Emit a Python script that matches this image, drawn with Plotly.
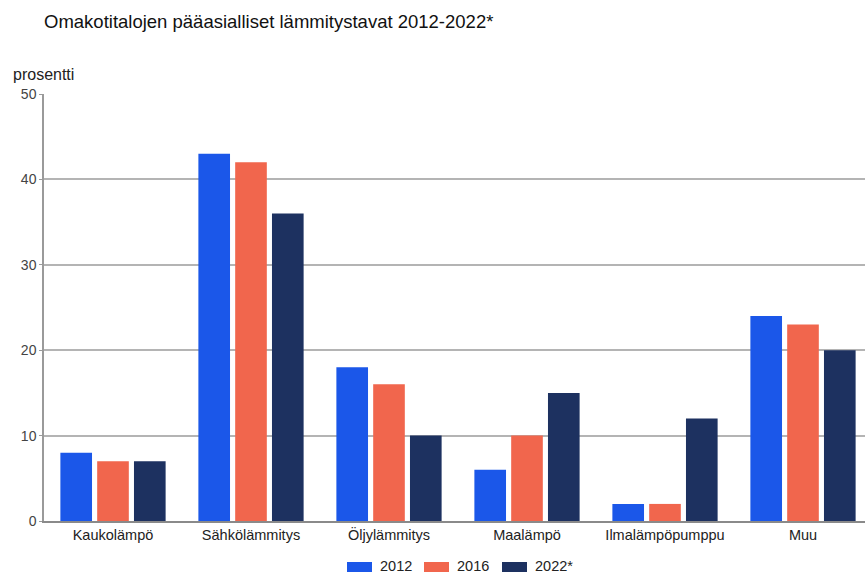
import plotly.graph_objects as go

categories = ["Kaukolämpö", "Sähkölämmitys", "Öljylämmitys", "Maalämpö", "Ilmalämpöpumppu", "Muu"]
years = ["2012", "2016", "2022*"]
values_2012 = [8, 43, 18, 6, 2, 24]
values_2016 = [7, 42, 16, 10, 2, 23]
values_2022 = [7, 36, 10, 15, 12, 20]
y_ticks = [0, 10, 20, 30, 40, 50]

series = [values_2012, values_2016, values_2022]
colors = ["#1B57E9", "#F1664D", "#1D3160"]

W, H = 865, 575
ML, MR, MT, MB = 44, 0, 94, 54
PW, PH = W - ML - MR, H - MT - MB

fig = go.Figure()
for name, vals, col in zip(years, series, colors):
    fig.add_trace(go.Bar(
        x=categories, y=vals, name=name,
        marker=dict(color=col, line=dict(width=0)),
    ))


def px_x(px):
    return (px - ML) / PW


def px_y(py):
    return (H - MB - py) / PH


# bottom legend drawn with wide colour swatches
shapes, annotations = [], []
legend_x = [347, 424, 502]
for lx, name, col in zip(legend_x, years, colors):
    shapes.append(dict(type="rect", xref="paper", yref="paper",
                       x0=px_x(lx), x1=px_x(lx + 25),
                       y0=px_y(572), y1=px_y(562),
                       fillcolor=col, line=dict(width=0)))
    annotations.append(dict(text=name, xref="paper", yref="paper",
                            x=px_x(lx + 31), xanchor="left",
                            y=px_y(566), yanchor="middle", showarrow=False,
                            font=dict(size=14.5, color="#222")))

annotations.append(dict(text="prosentti", xref="paper", yref="paper",
                        x=px_x(11), xanchor="left",
                        y=px_y(75), yanchor="middle", showarrow=False,
                        font=dict(size=16, color="#222")))

fig.update_layout(
    width=W, height=H,
    margin=dict(l=ML, r=MR, t=MT, b=MB),
    paper_bgcolor="white", plot_bgcolor="white",
    font=dict(family="Liberation Sans, Arial, sans-serif", color="#222"),
    barmode="group", bargap=0.2, bargroupgap=0.14,
    showlegend=False,
    title=dict(text="Omakotitalojen pääasialliset lämmitystavat 2012-2022*",
               x=44 / W, xanchor="left", y=1 - 22 / H, yanchor="middle",
               font=dict(size=18.5, color="#111")),
    shapes=shapes,
    annotations=annotations,
)

fig.update_xaxes(
    range=[-0.5, 5.5 - 7 / 138],
    showline=True, linecolor="#8a8a8a", linewidth=1.5,
    ticks="", tickfont=dict(size=14.5, color="#222"),
    showgrid=False,
)
fig.update_yaxes(
    range=[0, 50], tickvals=y_ticks,
    showline=True, linecolor="#9a9a9a", linewidth=1.5,
    showgrid=True, gridcolor="#b4b4b4", gridwidth=1.5,
    ticks="outside", ticklen=3, tickcolor="#9a9a9a",
    tickfont=dict(size=14, color="#444"),
    zeroline=False,
)

fig.write_html("out.html")
